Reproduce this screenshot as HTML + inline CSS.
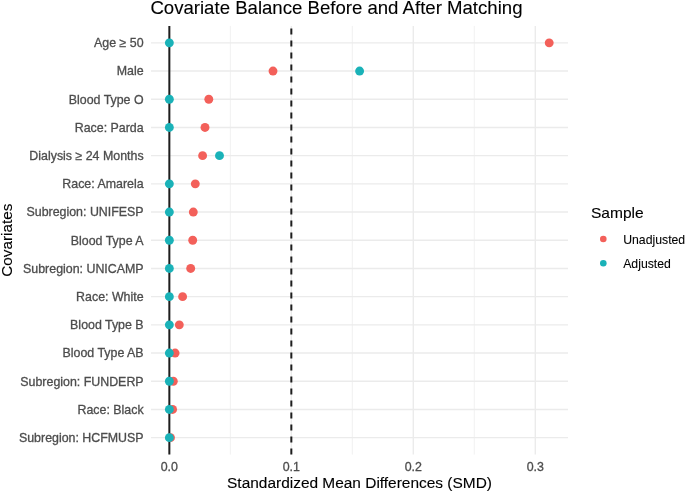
<!DOCTYPE html><html><head><meta charset="utf-8"><style>html,body{margin:0;padding:0;background:#fff;}svg{display:block;filter:blur(0.35px);}text{font-family:"Liberation Sans",sans-serif;stroke:currentColor;stroke-width:0.3px;}</style></head><body>
<svg width="685" height="492" viewBox="0 0 685 492">
<rect width="685" height="492" fill="#fff"/>
<line x1="230.34" y1="25.93" x2="230.34" y2="454.57" stroke="#EBEBEB" stroke-width="0.7"/>
<line x1="352.32" y1="25.93" x2="352.32" y2="454.57" stroke="#EBEBEB" stroke-width="0.7"/>
<line x1="474.31" y1="25.93" x2="474.31" y2="454.57" stroke="#EBEBEB" stroke-width="0.7"/>
<line x1="169.35" y1="25.93" x2="169.35" y2="454.57" stroke="#EBEBEB" stroke-width="1.4"/>
<line x1="291.33" y1="25.93" x2="291.33" y2="454.57" stroke="#EBEBEB" stroke-width="1.4"/>
<line x1="413.32" y1="25.93" x2="413.32" y2="454.57" stroke="#EBEBEB" stroke-width="1.4"/>
<line x1="535.30" y1="25.93" x2="535.30" y2="454.57" stroke="#EBEBEB" stroke-width="1.4"/>
<line x1="151.0" y1="42.85" x2="568.0" y2="42.85" stroke="#EBEBEB" stroke-width="1.4"/>
<line x1="151.0" y1="71.05" x2="568.0" y2="71.05" stroke="#EBEBEB" stroke-width="1.4"/>
<line x1="151.0" y1="99.25" x2="568.0" y2="99.25" stroke="#EBEBEB" stroke-width="1.4"/>
<line x1="151.0" y1="127.45" x2="568.0" y2="127.45" stroke="#EBEBEB" stroke-width="1.4"/>
<line x1="151.0" y1="155.65" x2="568.0" y2="155.65" stroke="#EBEBEB" stroke-width="1.4"/>
<line x1="151.0" y1="183.85" x2="568.0" y2="183.85" stroke="#EBEBEB" stroke-width="1.4"/>
<line x1="151.0" y1="212.05" x2="568.0" y2="212.05" stroke="#EBEBEB" stroke-width="1.4"/>
<line x1="151.0" y1="240.25" x2="568.0" y2="240.25" stroke="#EBEBEB" stroke-width="1.4"/>
<line x1="151.0" y1="268.45" x2="568.0" y2="268.45" stroke="#EBEBEB" stroke-width="1.4"/>
<line x1="151.0" y1="296.65" x2="568.0" y2="296.65" stroke="#EBEBEB" stroke-width="1.4"/>
<line x1="151.0" y1="324.85" x2="568.0" y2="324.85" stroke="#EBEBEB" stroke-width="1.4"/>
<line x1="151.0" y1="353.05" x2="568.0" y2="353.05" stroke="#EBEBEB" stroke-width="1.4"/>
<line x1="151.0" y1="381.25" x2="568.0" y2="381.25" stroke="#EBEBEB" stroke-width="1.4"/>
<line x1="151.0" y1="409.45" x2="568.0" y2="409.45" stroke="#EBEBEB" stroke-width="1.4"/>
<line x1="151.0" y1="437.65" x2="568.0" y2="437.65" stroke="#EBEBEB" stroke-width="1.4"/>
<line x1="169.35" y1="454.57" x2="169.35" y2="25.93" stroke="#1e1e1e" stroke-width="2"/>
<line x1="291.33" y1="454.57" x2="291.33" y2="25.93" stroke="#1e1e1e" stroke-width="2" stroke-dasharray="6 6"/>
<circle cx="549.20" cy="42.85" r="4.45" fill="#F3605A"/>
<circle cx="273.00" cy="71.05" r="4.45" fill="#F3605A"/>
<circle cx="208.80" cy="99.25" r="4.45" fill="#F3605A"/>
<circle cx="205.00" cy="127.45" r="4.45" fill="#F3605A"/>
<circle cx="202.60" cy="155.65" r="4.45" fill="#F3605A"/>
<circle cx="195.30" cy="183.85" r="4.45" fill="#F3605A"/>
<circle cx="193.30" cy="212.05" r="4.45" fill="#F3605A"/>
<circle cx="192.70" cy="240.25" r="4.45" fill="#F3605A"/>
<circle cx="190.70" cy="268.45" r="4.45" fill="#F3605A"/>
<circle cx="182.60" cy="296.65" r="4.45" fill="#F3605A"/>
<circle cx="179.30" cy="324.85" r="4.45" fill="#F3605A"/>
<circle cx="175.10" cy="353.05" r="4.45" fill="#F3605A"/>
<circle cx="173.30" cy="381.25" r="4.45" fill="#F3605A"/>
<circle cx="172.60" cy="409.45" r="4.45" fill="#F3605A"/>
<circle cx="170.50" cy="437.65" r="4.45" fill="#F3605A"/>
<circle cx="169.35" cy="42.85" r="4.45" fill="#1AB2B8"/>
<circle cx="359.60" cy="71.05" r="4.45" fill="#1AB2B8"/>
<circle cx="169.35" cy="99.25" r="4.45" fill="#1AB2B8"/>
<circle cx="169.35" cy="127.45" r="4.45" fill="#1AB2B8"/>
<circle cx="219.50" cy="155.65" r="4.45" fill="#1AB2B8"/>
<circle cx="169.35" cy="183.85" r="4.45" fill="#1AB2B8"/>
<circle cx="169.35" cy="212.05" r="4.45" fill="#1AB2B8"/>
<circle cx="169.35" cy="240.25" r="4.45" fill="#1AB2B8"/>
<circle cx="169.35" cy="268.45" r="4.45" fill="#1AB2B8"/>
<circle cx="169.35" cy="296.65" r="4.45" fill="#1AB2B8"/>
<circle cx="169.35" cy="324.85" r="4.45" fill="#1AB2B8"/>
<circle cx="169.35" cy="353.05" r="4.45" fill="#1AB2B8"/>
<circle cx="169.35" cy="381.25" r="4.45" fill="#1AB2B8"/>
<circle cx="169.35" cy="409.45" r="4.45" fill="#1AB2B8"/>
<circle cx="169.35" cy="437.65" r="4.45" fill="#1AB2B8"/>
<text x="143.6" y="47.15" font-size="12.4" fill="#4D4D4D" color="#4D4D4D" text-anchor="end">Age ≥ 50</text>
<text x="143.6" y="75.35" font-size="12.4" fill="#4D4D4D" color="#4D4D4D" text-anchor="end">Male</text>
<text x="143.6" y="103.55" font-size="12.4" fill="#4D4D4D" color="#4D4D4D" text-anchor="end">Blood Type O</text>
<text x="143.6" y="131.75" font-size="12.4" fill="#4D4D4D" color="#4D4D4D" text-anchor="end">Race: Parda</text>
<text x="143.6" y="159.95" font-size="12.4" fill="#4D4D4D" color="#4D4D4D" text-anchor="end">Dialysis ≥ 24 Months</text>
<text x="143.6" y="188.15" font-size="12.4" fill="#4D4D4D" color="#4D4D4D" text-anchor="end">Race: Amarela</text>
<text x="143.6" y="216.35" font-size="12.4" fill="#4D4D4D" color="#4D4D4D" text-anchor="end">Subregion: UNIFESP</text>
<text x="143.6" y="244.55" font-size="12.4" fill="#4D4D4D" color="#4D4D4D" text-anchor="end">Blood Type A</text>
<text x="143.6" y="272.75" font-size="12.4" fill="#4D4D4D" color="#4D4D4D" text-anchor="end">Subregion: UNICAMP</text>
<text x="143.6" y="300.95" font-size="12.4" fill="#4D4D4D" color="#4D4D4D" text-anchor="end">Race: White</text>
<text x="143.6" y="329.15" font-size="12.4" fill="#4D4D4D" color="#4D4D4D" text-anchor="end">Blood Type B</text>
<text x="143.6" y="357.35" font-size="12.4" fill="#4D4D4D" color="#4D4D4D" text-anchor="end">Blood Type AB</text>
<text x="143.6" y="385.55" font-size="12.4" fill="#4D4D4D" color="#4D4D4D" text-anchor="end">Subregion: FUNDERP</text>
<text x="143.6" y="413.75" font-size="12.4" fill="#4D4D4D" color="#4D4D4D" text-anchor="end">Race: Black</text>
<text x="143.6" y="441.95" font-size="12.4" fill="#4D4D4D" color="#4D4D4D" text-anchor="end">Subregion: HCFMUSP</text>
<text x="169.35" y="470.8" font-size="12.4" fill="#4D4D4D" color="#4D4D4D" text-anchor="middle">0.0</text>
<text x="291.33" y="470.8" font-size="12.4" fill="#4D4D4D" color="#4D4D4D" text-anchor="middle">0.1</text>
<text x="413.32" y="470.8" font-size="12.4" fill="#4D4D4D" color="#4D4D4D" text-anchor="middle">0.2</text>
<text x="535.30" y="470.8" font-size="12.4" fill="#4D4D4D" color="#4D4D4D" text-anchor="middle">0.3</text>
<text x="359.50" y="488.2" font-size="15.45" fill="#000" color="#000" style="stroke-width:0.12px" text-anchor="middle">Standardized Mean Differences (SMD)</text>
<text transform="translate(12.2 240.25) rotate(-90)" x="0" y="0" font-size="15.3" fill="#000" color="#000" style="stroke-width:0.12px" text-anchor="middle">Covariates</text>
<text x="150.4" y="14.2" font-size="18.6" fill="#000" color="#000" style="stroke-width:0.1px">Covariate Balance Before and After Matching</text>
<text x="591.0" y="217.9" font-size="15.55" fill="#000" color="#000" style="stroke-width:0.12px">Sample</text>
<circle cx="603.3" cy="238.95" r="3.3" fill="#F3605A"/>
<circle cx="603.3" cy="263.3" r="3.3" fill="#1AB2B8"/>
<text x="623.2" y="243.7" font-size="12.25" fill="#000" color="#000" style="stroke-width:0.08px">Unadjusted</text>
<text x="623.2" y="267.9" font-size="12.25" fill="#000" color="#000" style="stroke-width:0.08px">Adjusted</text>
</svg></body></html>
